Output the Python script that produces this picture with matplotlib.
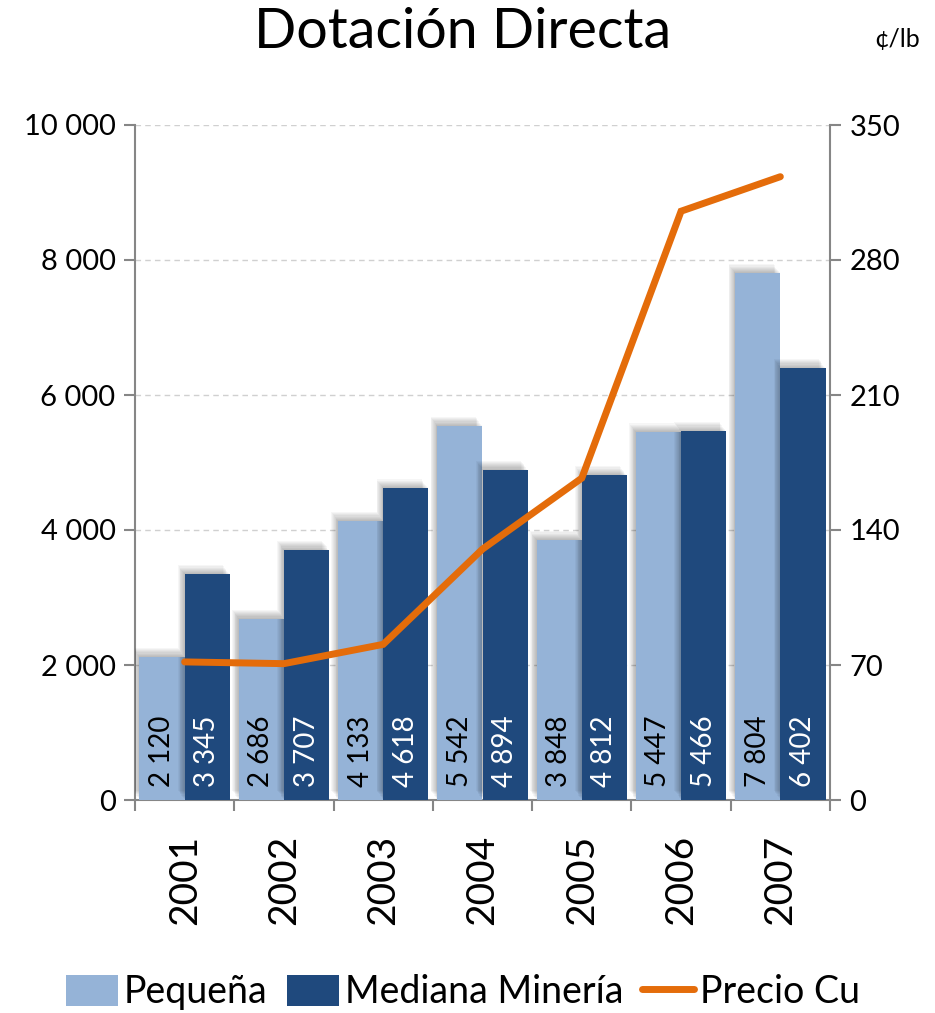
import matplotlib
matplotlib.use('Agg')
import matplotlib.pyplot as plt
import matplotlib.patheffects as pe
from matplotlib.patches import Patch
from matplotlib.lines import Line2D
import numpy as np

plt.rcParams['font.family'] = ['Lato', 'DejaVu Sans']

years = ['2001', '2002', '2003', '2004', '2005', '2006', '2007']
pequena = [2120, 2686, 4133, 5542, 3848, 5447, 7804]
mediana = [3345, 3707, 4618, 4894, 4812, 5466, 6402]
precio_cu = [71.6, 70.7, 80.7, 130.1, 166.9, 305.3, 323.2]
left_ticks = [0, 2000, 4000, 6000, 8000, 10000]
right_ticks = [0, 70, 140, 210, 280, 350]

LIGHT = '#95B3D7'
DARK = '#1F497D'
ORANGE = '#E46C0A'
AXC = '#868686'

W, H = 935, 1013
fig = plt.figure(figsize=(W / 100, H / 100), dpi=100)
ax = fig.add_axes([135 / W, (H - 800) / H, 695 / W, 675 / H])

x = np.arange(len(years))
bw = 0.455

shadow = [pe.SimplePatchShadow(offset=(-o * 0.6, o * 0.8), shadow_rgbFace='black', alpha=0.035)
          for o in range(1, 9)] + [pe.Normal()]

b1 = ax.bar(x - bw / 2, pequena, bw, color=LIGHT, zorder=3)
b2 = ax.bar(x + bw / 2, mediana, bw, color=DARK, zorder=3)
for r in list(b1) + list(b2):
    r.set_path_effects(shadow)

def fmt(v):
    return f"{v:,}".replace(',', ' ')

for xi, v in zip(x, pequena):
    ax.text(xi - bw / 2, 200, fmt(v), rotation=90, ha='center', va='bottom',
            fontsize=20, color='black', zorder=5)
for xi, v in zip(x, mediana):
    ax.text(xi + bw / 2, 200, fmt(v), rotation=90, ha='center', va='bottom',
            fontsize=20, color='white', zorder=5)

ax.set_xlim(-0.5, len(years) - 0.5)
ax.set_ylim(0, 10000)
ax.set_yticks(left_ticks)
ax.set_yticklabels([fmt(t) for t in left_ticks], fontsize=21)
ax.yaxis.grid(True, color='#D0D0D0', linestyle=(0, (4, 3)), linewidth=1)
ax.set_axisbelow(True)

ax.set_xticks(np.arange(-0.5, len(years), 1.0))
ax.set_xticklabels([])
ax.set_xticks(x, minor=True)
ax.set_xticklabels(years, minor=True, rotation=90, fontsize=28)
ax.tick_params(axis='x', which='minor', length=0, pad=25)
ax.tick_params(axis='x', which='major', length=8, color=AXC, width=1.5)
ax.tick_params(axis='y', length=8, color=AXC, width=1.5, pad=6)

ax.spines['top'].set_visible(False)
ax.spines['right'].set_visible(False)
for s in ['left', 'bottom']:
    ax.spines[s].set_color(AXC)
    ax.spines[s].set_linewidth(1.5)

ax2 = ax.twinx()
ax2.plot(x, precio_cu, color=ORANGE, linewidth=5, solid_capstyle='round',
         solid_joinstyle='miter', zorder=6)
ax2.set_ylim(0, 350)
ax2.set_yticks(right_ticks)
ax2.set_yticklabels([str(t) for t in right_ticks], fontsize=21)
ax2.tick_params(axis='y', length=8, color=AXC, width=1.5, pad=6)
for s in ['top', 'left', 'bottom']:
    ax2.spines[s].set_visible(False)
ax2.spines['right'].set_color(AXC)
ax2.spines['right'].set_linewidth(1.5)

fig.text(463 / W, 1 - 32 / H, 'Dotación Directa', ha='center', va='center', fontsize=40)
fig.text(897 / W, 1 - 40 / H, '¢/lb', ha='center', va='center', fontsize=18)

handles = [Patch(facecolor=LIGHT), Patch(facecolor=DARK),
           Line2D([0], [0], color=ORANGE, linewidth=5, solid_capstyle='round')]
fig.legend(handles, ['Pequeña', 'Mediana Minería', 'Precio Cu'], loc='center',
           bbox_to_anchor=(463 / W, 1 - 992 / H), ncol=3, frameon=False,
           fontsize=27, handlelength=1.4, handleheight=0.9, handletextpad=0.15,
           columnspacing=0.5)

fig.savefig('out.png', dpi=100)
